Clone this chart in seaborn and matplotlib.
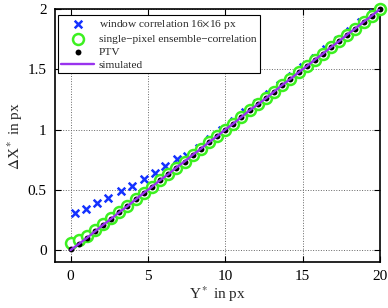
import numpy as np
import pandas as pd
import seaborn as sns
import matplotlib.pyplot as plt

# window correlation 16x16 px (blue crosses)
win_x = [0.28, 1.01, 1.72, 2.43, 3.23, 3.98, 4.73, 5.44, 6.13, 6.88, 7.53, 8.30, 9.03,
         9.79, 10.54, 11.30, 12.05, 12.80, 13.55, 14.30, 15.05, 15.80, 16.55, 17.30,
         18.05, 18.80, 19.55]
win_y = [0.31, 0.345, 0.395, 0.43, 0.49, 0.53, 0.59, 0.64, 0.70, 0.76, 0.78, 0.85, 0.92,
         0.995, 1.07, 1.145, 1.22, 1.295, 1.37, 1.445, 1.52, 1.595, 1.67, 1.745,
         1.82, 1.895, 1.97]

# sample positions shared by ensemble, PTV and simulation
pos_x = [0.00, 0.53, 1.05, 1.58, 2.11, 2.63, 3.16, 3.68, 4.21, 4.74, 5.26, 5.79, 6.32,
         6.84, 7.37, 7.89, 8.42, 8.95, 9.47, 10.00, 10.53, 11.05, 11.58, 12.11, 12.63,
         13.16, 13.68, 14.21, 14.74, 15.26, 15.79, 16.32, 16.84, 17.37, 17.89, 18.42,
         18.95, 19.47, 20.00]
ens_y = [0.06, 0.08, 0.12, 0.165, 0.215, 0.265, 0.315, 0.37, 0.42, 0.475, 0.525, 0.58,
         0.63, 0.685, 0.735, 0.79, 0.84, 0.895, 0.945, 1.00, 1.05, 1.105, 1.16, 1.21,
         1.26, 1.315, 1.37, 1.42, 1.475, 1.525, 1.58, 1.63, 1.685, 1.735, 1.79, 1.84,
         1.895, 1.945, 2.00]
ptv_y = [0.01, 0.05, 0.10, 0.155, 0.21, 0.26, 0.315, 0.365, 0.42, 0.475, 0.525, 0.58,
         0.63, 0.685, 0.735, 0.79, 0.84, 0.895, 0.945, 1.00, 1.05, 1.105, 1.16, 1.21,
         1.26, 1.315, 1.37, 1.42, 1.475, 1.525, 1.58, 1.63, 1.685, 1.735, 1.79, 1.84,
         1.895, 1.945, 2.00]
sim_y = [0.00, 0.05, 0.10, 0.155, 0.21, 0.26, 0.315, 0.365, 0.42, 0.475, 0.525, 0.58,
         0.63, 0.685, 0.735, 0.79, 0.84, 0.895, 0.945, 1.00, 1.05, 1.105, 1.16, 1.21,
         1.26, 1.315, 1.37, 1.42, 1.475, 1.525, 1.58, 1.63, 1.685, 1.735, 1.79, 1.84,
         1.895, 1.945, 2.00]

sns.set_theme(style="ticks")
plt.rcParams['font.family'] = ['Liberation Serif', 'DejaVu Serif']
plt.rcParams['mathtext.fontset'] = 'stix'

fig = plt.figure(figsize=(3.88, 3.08), dpi=100)
ax = fig.add_axes([0.142, 0.149, 0.837, 0.821])

df_win = pd.DataFrame({"x": win_x, "y": win_y})
df_pos = pd.DataFrame({"x": pos_x, "ens": ens_y, "ptv": ptv_y, "sim": sim_y})

sns.scatterplot(data=df_win, x="x", y="y", ax=ax, marker="x", s=30, color="#1432ff",
                linewidth=1.8, label="window correlation 16$\\times$16 px", zorder=3,
                clip_on=False)
sns.scatterplot(data=df_pos, x="x", y="ens", ax=ax, marker="o", s=62, facecolor="white",
                edgecolor="#3cf020", linewidth=1.8,
                label="single\u2212pixel ensemble\u2212correlation", zorder=4, clip_on=False)
sns.scatterplot(data=df_pos, x="x", y="ptv", ax=ax, marker="o", s=18, color="black",
                linewidth=0, label="PTV", zorder=5, clip_on=False)
sns.lineplot(data=df_pos, x="x", y="sim", ax=ax, color="#9933ee", linewidth=1.7,
             label="simulated", zorder=6)

ax.set_xlim(-1, 20)
ax.set_ylim(-0.1, 2)
ax.set_xticks([0, 5, 10, 15, 20])
ax.set_yticks([0, 0.5, 1, 1.5, 2])
ax.set_yticklabels(["0", "0.5", "1", "1.5", "2"])
ax.tick_params(direction="in", top=True, right=True, length=4, width=0.8,
               labelsize=11, colors="black", pad=6)
ax.grid(True, linestyle=":", color="0.4", linewidth=0.7)
for sp in ax.spines.values():
    sp.set_linewidth(1.2)
    sp.set_color("black")

ax.set_xlabel("Y$^*$ in px", fontsize=11, labelpad=1)
ax.set_ylabel("$\\Delta$X$^*$ in px", fontsize=11, labelpad=2)

leg = ax.legend(loc="upper left", bbox_to_anchor=(0.008, 0.978), fontsize=8.2,
                frameon=True, fancybox=False, edgecolor="black", framealpha=1,
                handlelength=2.9, handletextpad=0.4, borderpad=0.3, labelspacing=0.25,
                borderaxespad=0)
leg.get_frame().set_linewidth(0.8)

fig.savefig("out.png", dpi=100)
